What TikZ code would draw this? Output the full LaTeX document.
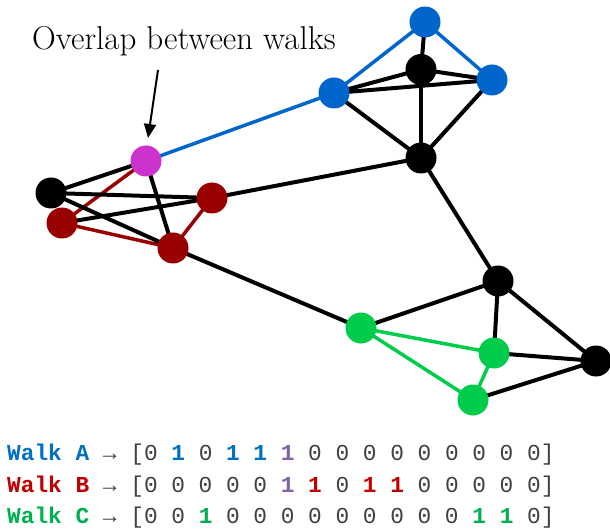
\documentclass[tikz,border=0pt]{standalone}
\usepackage{fontspec}
\newfontfamily\monofont{Liberation Mono}
\usetikzlibrary{arrows.meta}
\pgfdeclarelayer{bg}
\pgfsetlayers{bg,main}
\definecolor{nblue}{HTML}{0066CC}
\definecolor{nred}{HTML}{990000}
\definecolor{ngreen}{HTML}{00CC4C}
\definecolor{nmag}{HTML}{CC33CC}
\definecolor{tA}{HTML}{0070C0}
\definecolor{tB}{HTML}{C00000}
\definecolor{tC}{HTML}{00B050}
\definecolor{tP}{HTML}{8064A2}
\definecolor{tZ}{HTML}{404040}
\newcommand{\oA}{{\bfseries\color{tA}1}}
\newcommand{\oB}{{\bfseries\color{tB}1}}
\newcommand{\oC}{{\bfseries\color{tC}1}}
\newcommand{\oP}{{\bfseries\color{tP}1}}
\tikzset{
  vtx/.style={circle, inner sep=0pt, minimum size=31pt, draw=none},
  vblack/.style={vtx, fill=black},
  vblue/.style={vtx, fill=nblue},
  vred/.style={vtx, fill=nred},
  vgreen/.style={vtx, fill=ngreen},
  vmag/.style={vtx, fill=nmag},
  eblack/.style={line width=4pt, black},
  eblue/.style={line width=3.5pt, nblue},
  ered/.style={line width=3.5pt, nred},
  egreen/.style={line width=3.5pt, ngreen},
  walkrow/.style={anchor=base west, inner sep=0pt, font=\monofont\fontsize{22.8}{26}\selectfont, text=tZ}
}
\begin{document}
\begin{tikzpicture}[x=1pt,y=-1pt]
\useasboundingbox (0,0) rectangle (610,529);
% vertices
\node[vblue]  (bT) at (425,22) {};
\node[vblack] (kT) at (421,69.5) {};
\node[vblue]  (bR) at (492,80) {};
\node[vblue]  (bL) at (334,93) {};
\node[vblack] (kM) at (421,158) {};
\node[vmag]   (mg) at (146,161) {};
\node[vblack] (kL) at (51,193) {};
\node[vred]   (rR) at (212,198) {};
\node[vred]   (rL) at (62,223) {};
\node[vred]   (rB) at (173,248) {};
\node[vblack] (kR) at (498,281) {};
\node[vgreen] (gL) at (361,328) {};
\node[vgreen] (gM) at (494,353) {};
\node[vblack] (kF) at (596,361) {};
\node[vgreen] (gB) at (473,400) {};
\begin{pgfonlayer}{bg}
% blue walk
\draw[eblue] (bT.center) -- (bL.center);
\draw[eblue] (bT.center) -- (bR.center);
\draw[eblue] (bL.center) -- (mg.center);
% red walk
\draw[ered] (mg.center) -- (rL.center);
\draw[ered] (rL.center) -- (rB.center);
\draw[ered] (rB.center) -- (rR.center);
% green walk
\draw[egreen] (gL.center) -- (gM.center);
\draw[egreen] (gL.center) -- (gB.center);
\draw[egreen] (gM.center) -- (gB.center);
% black edges
\draw[eblack] (bT.center) -- (kT.center);
\draw[eblack] (kT.center) -- (bL.center);
\draw[eblack] (kT.center) -- (bR.center);
\draw[eblack] (bL.center) -- (bR.center);
\draw[eblack] (kT.center) -- (kM.center);
\draw[eblack] (bL.center) -- (kM.center);
\draw[eblack] (bR.center) -- (kM.center);
\draw[eblack] (kM.center) -- (rR.center);
\draw[eblack] (kM.center) -- (kR.center);
\draw[eblack] (mg.center) -- (kL.center);
\draw[eblack] (mg.center) -- (rB.center);
\draw[eblack] (kL.center) -- (rR.center);
\draw[eblack] (kL.center) -- (rB.center);
\draw[eblack] (rL.center) -- (rR.center);
\draw[eblack] (rB.center) -- (gL.center);
\draw[eblack] (gL.center) -- (kR.center);
\draw[eblack] (kR.center) -- (gM.center);
\draw[eblack] (kR.center) -- (kF.center);
\draw[eblack] (gM.center) -- (kF.center);
\draw[eblack] (gB.center) -- (kF.center);
\end{pgfonlayer}
% annotation
\node[anchor=base west, inner sep=0pt, font=\fontsize{33}{40}\selectfont] (lbl) at (32,50) {Overlap between walks};
\coordinate (arrS) at (158,70);
\coordinate (arrE) at (148,138);
\draw[line width=2pt, -{Triangle[length=14pt,width=12pt]}] (arrS) -- (arrE);
% walk vectors
\node[walkrow] (wA) at (7,460) {{\bfseries\color{tA}Walk A} → [0 \oA{} 0 \oA{} \oA{} \oP{} 0 0 0 0 0 0 0 0 0]};
\node[walkrow] (wB) at (7,492) {{\bfseries\color{tB}Walk B} → [0 0 0 0 0 \oP{} \oB{} 0 \oB{} \oB{} 0 0 0 0 0]};
\node[walkrow] (wC) at (7,523) {{\bfseries\color{tC}Walk C} → [0 0 \oC{} 0 0 0 0 0 0 0 0 0 \oC{} \oC{} 0]};
\end{tikzpicture}
\end{document}
